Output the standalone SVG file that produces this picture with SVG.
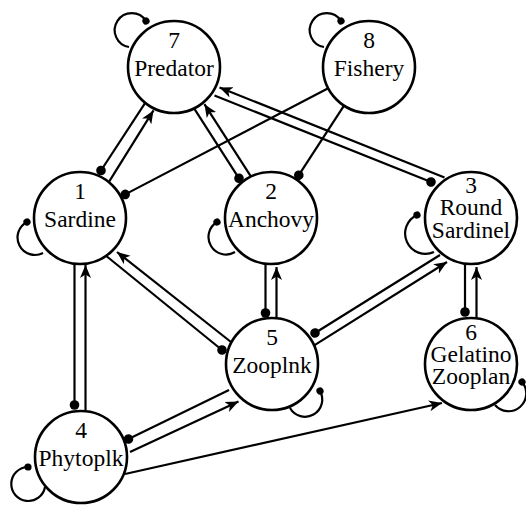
<svg xmlns="http://www.w3.org/2000/svg" width="526" height="506" viewBox="0 0 526 506">
<style>
.node circle{fill:#fff;stroke:#000;stroke-width:2.6}
.lbl{font-family:"Liberation Serif","Times New Roman",serif;font-size:23.5px;text-anchor:middle;fill:#000}
.e{stroke:#000;stroke-width:2.2;fill:none}
.ar{marker-end:url(#arrow)}
.dt{marker-end:url(#dot)}
.lp{stroke:#000;stroke-width:2.2;fill:none;marker-end:url(#ldot)}
</style>
<defs>
<marker id="arrow" markerUnits="userSpaceOnUse" markerWidth="14" markerHeight="12" viewBox="0 0 14 12" refX="13" refY="6" orient="auto">
<path d="M0,0.5 L13,6 L0,11.5 L3.5,6 z" fill="#000"/>
</marker>
<marker id="dot" markerUnits="userSpaceOnUse" markerWidth="12" markerHeight="12" viewBox="0 0 12 12" refX="6" refY="6" orient="auto">
<circle cx="6" cy="6" r="4.8" fill="#000"/>
</marker>
<marker id="ldot" markerUnits="userSpaceOnUse" markerWidth="10" markerHeight="10" viewBox="0 0 10 10" refX="5" refY="5" orient="auto">
<circle cx="5" cy="5" r="3.6" fill="#000"/>
</marker>
</defs>
<g id="connectors">
<!-- 1-7 -->
<path class="e dt" d="M145.2,102.9 L101,170.5"/>
<path class="e ar" d="M108.8,182.2 L153.5,110.4"/>
<!-- 2-7 -->
<path class="e dt" d="M194.1,108.4 L239,178.3"/>
<path class="e ar" d="M251,176.6 L204.4,104.2"/>
<!-- 3-7 -->
<path class="e ar" d="M444.5,177.5 L219.5,87.5"/>
<path class="e dt" d="M214.5,95.5 L431,182"/>
<!-- 8-1, 8-2 -->
<path class="e dt" d="M328.2,88.3 L125.2,194.4"/>
<path class="e dt" d="M344,105.6 L298.8,175.2"/>
<!-- 1-5 -->
<path class="e ar" d="M231,342 L117,252"/>
<path class="e dt" d="M106.3,256 L222,350"/>
<!-- 1-4 -->
<path class="e dt" d="M74.5,264 L74.5,405"/>
<path class="e ar" d="M85.5,411 L85.5,265"/>
<!-- 2-5 -->
<path class="e dt" d="M265.5,264 L265.5,313"/>
<path class="e ar" d="M276.5,318 L276.5,267"/>
<!-- 3-6 -->
<path class="e dt" d="M465,264 L465,312"/>
<path class="e ar" d="M476.5,318 L476.5,267"/>
<!-- 3-5 -->
<path class="e dt" d="M440,255 L315,333"/>
<path class="e ar" d="M314.2,345.4 L447,262"/>
<!-- 4-5 -->
<path class="e dt" d="M229,390 L128.5,439"/>
<path class="e ar" d="M130,452 L238.5,401.5"/>
<!-- 4-6 -->
<path class="e ar" d="M125,474 L442,403"/>
<!-- self loops -->
<path class="lp" d="M129,47 A17,17 0 1 1 146,21"/>
<path class="lp" d="M324,47 A17,17 0 1 1 341,21"/>
<path class="lp" d="M43,253 A17,17 0 1 1 27,222"/>
<path class="lp" d="M235,252 A17,17 0 1 1 217,222"/>
<path class="lp" d="M434,252 A17,17 0 1 1 417,215"/>
<path class="lp" d="M290,408 A17,17 0 1 0 320,391"/>
<path class="lp" d="M495,405 A17,17 0 1 0 522,382"/>
<path class="lp" d="M45,487 A17,17 0 1 1 28,467"/>
</g>
<g id="n7" class="node"><circle cx="174" cy="67" r="46"/><text class="lbl" x="174" y="48">7</text><text class="lbl" x="174" y="76">Predator</text></g>
<g id="n8" class="node"><circle cx="369" cy="67" r="46"/><text class="lbl" x="369" y="48">8</text><text class="lbl" x="369" y="76">Fishery</text></g>
<g id="n1" class="node"><circle cx="80" cy="218" r="46"/><text class="lbl" x="80" y="199">1</text><text class="lbl" x="80" y="227">Sardine</text></g>
<g id="n2" class="node"><circle cx="271" cy="218" r="46"/><text class="lbl" x="271" y="199">2</text><text class="lbl" x="271" y="227">Anchovy</text></g>
<g id="n3" class="node"><circle cx="471" cy="218" r="46"/><text class="lbl" x="471" y="193">3</text><text class="lbl" x="471" y="215">Round</text><text class="lbl" x="471" y="238">Sardinel</text></g>
<g id="n5" class="node"><circle cx="272" cy="364" r="46"/><text class="lbl" x="272" y="345">5</text><text class="lbl" x="272" y="373">Zooplnk</text></g>
<g id="n6" class="node"><circle cx="471" cy="364" r="46"/><text class="lbl" x="471" y="340">6</text><text class="lbl" x="471" y="362">Gelatino</text><text class="lbl" x="471" y="384">Zooplan</text></g>
<g id="n4" class="node"><circle cx="81" cy="457" r="46"/><text class="lbl" x="81" y="438">4</text><text class="lbl" x="81" y="466">Phytoplk</text></g>
</svg>
